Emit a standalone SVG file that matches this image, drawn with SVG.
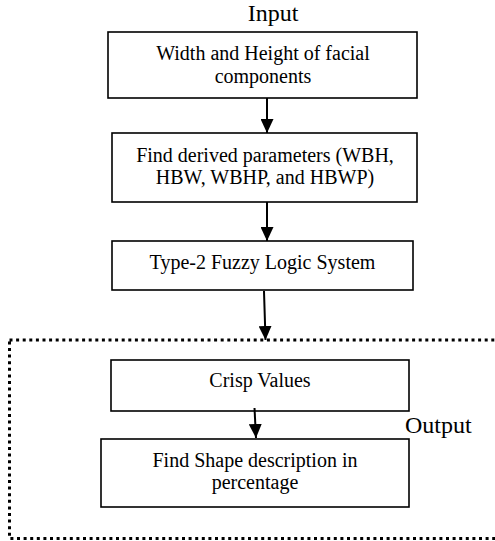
<svg xmlns="http://www.w3.org/2000/svg" width="495" height="541" viewBox="0 0 495 541">
<style>
.box{fill:#fff;stroke:#000;stroke-width:1.6}
.t{font-family:"Liberation Serif","Times New Roman",serif;font-size:20px;fill:#000;text-anchor:middle}
.lbl{font-family:"Liberation Serif","Times New Roman",serif;font-size:24px;fill:#000}
.edge{stroke:#000;stroke-width:2;fill:none}
.dash{fill:none;stroke:#000;stroke-width:3;stroke-dasharray:3 3.6}
</style>
<defs>
<marker id="ah" markerUnits="userSpaceOnUse" markerWidth="14" markerHeight="13" refX="14" refY="6.5" orient="auto">
<path d="M0,0 L14,6.5 L0,13 z" fill="#000"/>
</marker>
</defs>
<rect class="dash" x="9.5" y="340" width="500" height="198.5"/>
<text class="lbl" x="273" y="21" text-anchor="middle">Input</text>
<text class="lbl" x="405" y="433">Output</text>
<g id="n1">
<rect class="box" x="108" y="32" width="309" height="66"/>
<text class="t" x="263" y="60">Width and Height of facial</text>
<text class="t" x="263" y="83">components</text>
</g>
<g id="n2">
<rect class="box" x="112" y="133" width="305" height="69"/>
<text class="t" x="265" y="162">Find derived parameters (WBH,</text>
<text class="t" x="265" y="184">HBW, WBHP, and HBWP)</text>
</g>
<g id="n3">
<rect class="box" x="112" y="241" width="301" height="49"/>
<text class="t" x="262.5" y="269">Type-2 Fuzzy Logic System</text>
</g>
<g id="n4">
<rect class="box" x="111" y="360" width="298" height="51"/>
<text class="t" x="260" y="387">Crisp Values</text>
</g>
<g id="n5">
<rect class="box" x="101" y="439" width="308" height="68"/>
<text class="t" x="255" y="467">Find Shape description in</text>
<text class="t" x="255" y="489">percentage</text>
</g>
<g id="connectors">
<line class="edge" x1="267" y1="98" x2="267" y2="133" marker-end="url(#ah)"/>
<line class="edge" x1="267" y1="202" x2="267" y2="241" marker-end="url(#ah)"/>
<line class="edge" x1="264" y1="291" x2="265.5" y2="340" marker-end="url(#ah)"/>
<line class="edge" x1="254.5" y1="408" x2="256" y2="438" marker-end="url(#ah)"/>
</g>
</svg>
